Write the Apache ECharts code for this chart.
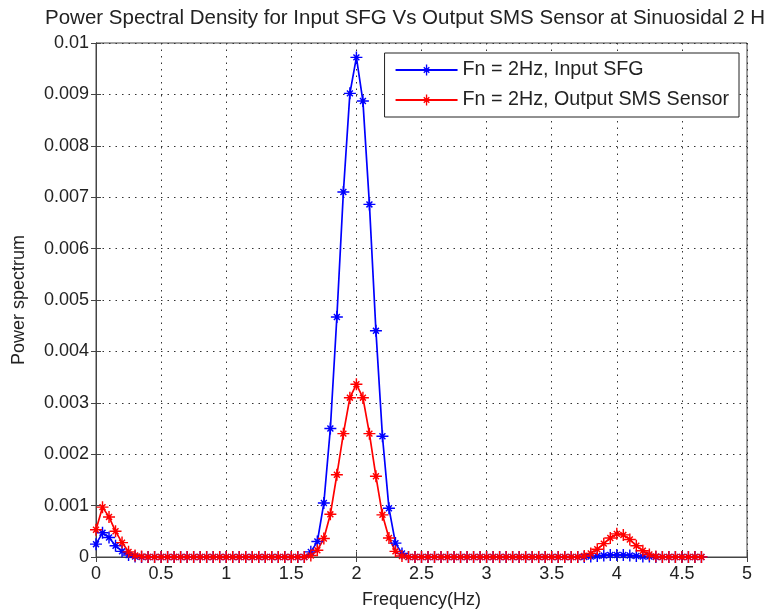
<!DOCTYPE html>
<html>
<head>
<meta charset="utf-8">
<title>Power Spectral Density</title>
<script src="https://cdn.jsdelivr.net/npm/echarts@6/dist/echarts.min.js"></script>
<style>
  html, body { margin: 0; padding: 0; background: #fff; }
  #chart { width: 764px; height: 613px; }
</style>
</head>
<body>
<div id="chart"></div>
<script>
// 频率 (Hz)
const freq = [
  0, 0.05, 0.1, 0.15, 0.2, 0.25, 0.3, 0.35, 0.4, 0.45,
  0.5, 0.55, 0.6, 0.65, 0.7, 0.75, 0.8, 0.85, 0.9, 0.95,
  1, 1.05, 1.1, 1.15, 1.2, 1.25, 1.3, 1.35, 1.4, 1.45,
  1.5, 1.55, 1.6, 1.65, 1.7, 1.75, 1.8, 1.85, 1.9, 1.95,
  2, 2.05, 2.1, 2.15, 2.2, 2.25, 2.3, 2.35, 2.4, 2.45,
  2.5, 2.55, 2.6, 2.65, 2.7, 2.75, 2.8, 2.85, 2.9, 2.95,
  3, 3.05, 3.1, 3.15, 3.2, 3.25, 3.3, 3.35, 3.4, 3.45,
  3.5, 3.55, 3.6, 3.65, 3.7, 3.75, 3.8, 3.85, 3.9, 3.95,
  4, 4.05, 4.1, 4.15, 4.2, 4.25, 4.3, 4.35, 4.4, 4.45,
  4.5, 4.55, 4.6, 4.65
];

// 输入 SFG
const inputSFG = [
  0.00025, 0.00047, 0.00038, 0.00022, 0.00011, 0.00004, 0.00001, 0, 0, 0,
  0, 0, 0, 0, 0, 0, 0, 0, 0, 0,
  0, 0, 0, 0, 0, 0, 0, 0, 0, 0,
  0, 0, 0, 0.0001, 0.0003, 0.00105, 0.0025, 0.00467, 0.0071, 0.00902,
  0.00972, 0.00887, 0.00686, 0.0044, 0.00235, 0.00095, 0.00027, 0.00007, 0, 0,
  0, 0, 0, 0, 0, 0, 0, 0, 0, 0,
  0, 0, 0, 0, 0, 0, 0, 0, 0, 0,
  0, 0, 0, 0, 0, 0, 0.00001, 0.00002, 0.00003, 0.00004,
  0.00004, 0.00004, 0.00003, 0.00002, 0.00001, 0.00001, 0, 0, 0, 0,
  0, 0, 0, 0
];

// 输出 SMS 传感器
const outputSMS = [
  0.00053, 0.00097, 0.00078, 0.0005, 0.00028, 0.0001, 0.00003, 0.00001, 0, 0,
  0, 0, 0, 0, 0, 0, 0, 0, 0, 0,
  0, 0, 0, 0, 0, 0, 0, 0, 0, 0,
  0, 0, 0, 0.00003, 0.00013, 0.00036, 0.00083, 0.0016, 0.0024, 0.0031,
  0.00336, 0.0031, 0.0024, 0.00157, 0.00082, 0.00037, 0.00011, 0.00002, 0, 0,
  0, 0, 0, 0, 0, 0, 0, 0, 0, 0,
  0, 0, 0, 0, 0, 0, 0, 0, 0, 0,
  0, 0, 0, 0, 0, 0.00002, 0.00007, 0.00015, 0.00026, 0.00037,
  0.00045, 0.00043, 0.00034, 0.00022, 0.00012, 0.00005, 0.00001, 0, 0, 0,
  0, 0, 0, 0
];

const seriesNames = ['Fn = 2Hz, Input SFG', 'Fn = 2Hz, Output SMS Sensor'];
const seriesColors = ['#0000ff', '#ff0000'];

// MATLAB 风格的 * 标记
const starPath = 'path://M-1.2,-10L1.2,-10L1.2,10L-1.2,10Z' +
  'M-10,-1.2L10,-1.2L10,1.2L-10,1.2Z' +
  'M-4.1,-5.8L5.8,4.1L4.1,5.8L-5.8,-4.1Z' +
  'M-4.1,5.8L-5.8,4.1L4.1,-5.8L5.8,-4.1Z';

const textColor = '#222';
const fontFamily = 'Liberation Sans, Arial, sans-serif';

const chart = echarts.init(document.getElementById('chart'));

function makeSeries(name, values, color) {
  return {
    name: name,
    type: 'line',
    xAxisIndex: 0,
    yAxisIndex: 0,
    data: freq.map((f, i) => [f, values[i]]),
    symbol: starPath,
    symbolSize: 12,
    showAllSymbol: true,
    lineStyle: { color: color, width: 1.7 },
    itemStyle: { color: color },
    emphasis: { disabled: true },
    animation: false
  };
}

// 刻度朝内、四周封闭的坐标框
const axisCommon = {
  min: 0,
  axisLine: { show: true, lineStyle: { color: '#444', width: 1 } },
  axisTick: { show: true, inside: true, length: 5, lineStyle: { color: '#444' } },
  splitLine: { show: false }
};

const option = {
  backgroundColor: '#fff',
  textStyle: { fontFamily: fontFamily },
  title: {
    text: 'Power Spectral Density for Input SFG Vs Output SMS Sensor at Sinuosidal 2 H',
    left: 40,
    top: 3,
    textStyle: { color: textColor, fontSize: 20.5, fontWeight: 'normal', fontFamily: fontFamily }
  },
  legend: {
    orient: 'vertical',
    right: 25,
    top: 53,
    padding: [7, 10, 7, 10],
    itemGap: 10,
    itemWidth: 62,
    itemHeight: 14,
    backgroundColor: '#fff',
    borderColor: '#222',
    borderWidth: 1,
    textStyle: { color: textColor, fontSize: 19.7, fontFamily: fontFamily },
    data: seriesNames
  },
  grid: {
    left: 96,
    right: 17,
    top: 43,
    bottom: 56,
    outerBoundsMode: 'none',
    show: true,
    borderColor: '#444',
    borderWidth: 1
  },
  xAxis: [
    Object.assign({}, axisCommon, {
      type: 'value',
      max: 5,
      interval: 0.5,
      name: 'Frequency(Hz)',
      nameLocation: 'middle',
      nameGap: 34,
      nameTextStyle: { color: textColor, fontSize: 18 },
      axisLabel: { color: textColor, fontSize: 18, margin: 8 },
      splitLine: { show: true, lineStyle: { color: '#333', type: [1.5, 5], width: 1 } }
    }),
    Object.assign({}, axisCommon, {
      type: 'value',
      position: 'top',
      max: 5,
      interval: 0.5,
      axisLabel: { show: false }
    })
  ],
  yAxis: [
    Object.assign({}, axisCommon, {
      type: 'value',
      max: 0.01,
      interval: 0.001,
      name: 'Power spectrum',
      nameLocation: 'middle',
      nameGap: 68,
      nameTextStyle: { color: textColor, fontSize: 18 },
      axisLabel: {
        color: textColor,
        fontSize: 18,
        margin: 7,
        formatter: (v) => String(parseFloat(v.toFixed(4)))
      },
      splitLine: { show: true, lineStyle: { color: '#333', type: [1.5, 5], width: 1 } }
    }),
    Object.assign({}, axisCommon, {
      type: 'value',
      position: 'right',
      max: 0.01,
      interval: 0.001,
      axisLabel: { show: false }
    })
  ],
  series: [
    makeSeries(seriesNames[0], inputSFG, seriesColors[0]),
    makeSeries(seriesNames[1], outputSMS, seriesColors[1])
  ]
};

chart.setOption(option);

window.addEventListener('resize', () => {
  chart.resize();
});
</script>
</body>
</html>
